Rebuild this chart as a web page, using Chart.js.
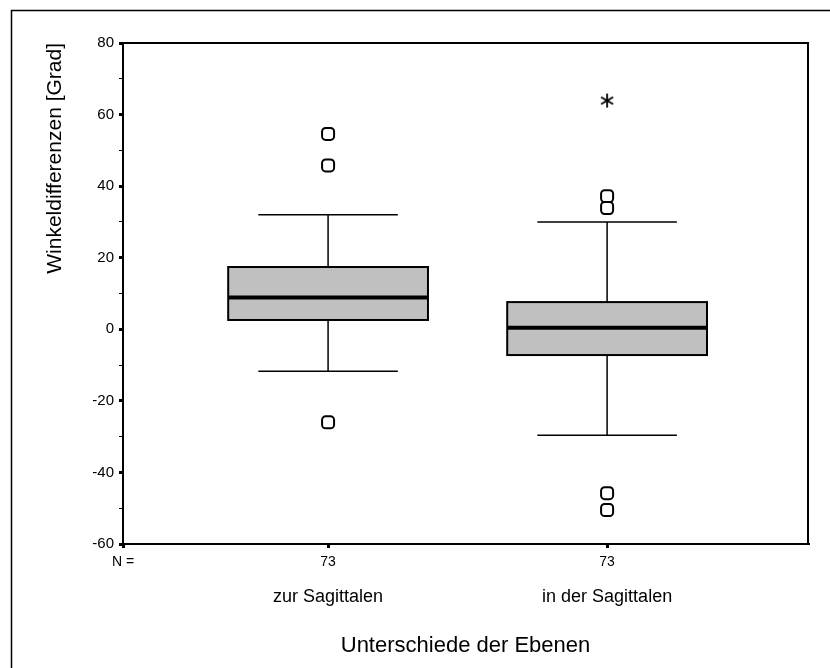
<!DOCTYPE html>
<html>
<head>
<meta charset="utf-8">
<script src="https://cdn.jsdelivr.net/npm/chart.js@4"></script>
<style>
  body { margin: 0; background: #fff; }
  canvas { display: block; }
</style>
</head>
<body>
<canvas id="chart" width="830" height="668"></canvas>
<script>
// data
const categories = ['zur Sagittalen', 'in der Sagittalen'];
const nCounts = [73, 73];
const whiskerLow = [-11.7, -29.6];
const q1 = [2.6, -7.2];
const median = [8.9, 0.4];
const q3 = [17.4, 7.6];
const whiskerHigh = [32.0, 30.0];
const outliers = [[54.6, 45.8, -26.0], [37.2, 33.9, -45.8, -50.5]];
const extremes = [[], [63.9]];
const yTicks = [80, 60, 40, 20, 0, -20, -40, -60];

const xMin = 0.265, xMax = 2.72;
const FONT = 'Arial, "Liberation Sans", sans-serif';

// points for the outliers and extremes
const outlierPoints = [];
const extremePoints = [];
categories.forEach((c, i) => {
    outliers[i].forEach(v => outlierPoints.push({ x: i + 1, y: v }));
    extremes[i].forEach(v => extremePoints.push({ x: i + 1, y: v }));
});

// six-armed asterisk used for extreme values
function makeAsterisk() {
    const c = document.createElement('canvas');
    c.width = 16; c.height = 16;
    const g = c.getContext('2d');
    g.strokeStyle = '#000';
    g.lineWidth = 1.8;
    for (let k = 0; k < 3; k++) {
        const a = Math.PI / 2 + k * Math.PI / 3;
        g.beginPath();
        g.moveTo(8 + Math.cos(a) * 7, 8 + Math.sin(a) * 7);
        g.lineTo(8 - Math.cos(a) * 7, 8 - Math.sin(a) * 7);
        g.stroke();
    }
    return c;
}

// frame, boxes and whiskers drawn through the chart's scales
const boxPlugin = {
    id: 'boxPlugin',
    beforeDraw(chart) {
        const ctx = chart.ctx;
        ctx.save();
        ctx.fillStyle = '#fff';
        ctx.fillRect(0, 0, chart.width, chart.height);
        ctx.strokeStyle = '#000';
        ctx.lineWidth = 1.5;
        ctx.beginPath();
        ctx.moveTo(11.5, chart.height);
        ctx.lineTo(11.5, 10.5);
        ctx.lineTo(chart.width, 10.5);
        ctx.stroke();
        ctx.restore();
    },
    beforeDatasetsDraw(chart) {
        const ctx = chart.ctx;
        const xs = chart.scales.x;
        const ys = chart.scales.y;
        const area = chart.chartArea;
        ctx.save();
        ctx.strokeStyle = '#000';
        ctx.lineWidth = 2;
        ctx.strokeRect(area.left, area.top, area.right - area.left, area.bottom - area.top);

        categories.forEach((c, i) => {
            const cx = xs.getPixelForValue(i + 1);
            const half = xs.getPixelForValue(i + 1 + 0.358) - cx;
            const cap = xs.getPixelForValue(i + 1 + 0.25) - cx;
            const yLo = ys.getPixelForValue(whiskerLow[i]);
            const yQ1 = ys.getPixelForValue(q1[i]);
            const yMed = ys.getPixelForValue(median[i]);
            const yQ3 = ys.getPixelForValue(q3[i]);
            const yHi = ys.getPixelForValue(whiskerHigh[i]);

            // whiskers
            ctx.lineWidth = 1.5;
            ctx.beginPath();
            ctx.moveTo(cx, yQ3); ctx.lineTo(cx, yHi);
            ctx.moveTo(cx - cap, yHi); ctx.lineTo(cx + cap, yHi);
            ctx.moveTo(cx, yQ1); ctx.lineTo(cx, yLo);
            ctx.moveTo(cx - cap, yLo); ctx.lineTo(cx + cap, yLo);
            ctx.stroke();

            // box
            ctx.fillStyle = '#c0c0c0';
            ctx.fillRect(cx - half, yQ3, half * 2, yQ1 - yQ3);
            ctx.lineWidth = 2;
            ctx.strokeRect(cx - half, yQ3, half * 2, yQ1 - yQ3);

            // median
            ctx.lineWidth = 4;
            ctx.beginPath();
            ctx.moveTo(cx - half, yMed); ctx.lineTo(cx + half, yMed);
            ctx.stroke();
        });
        ctx.restore();
    }
};

const ctx = document.getElementById('chart').getContext('2d');
new Chart(ctx, {
    type: 'scatter',
    data: {
        datasets: [{
            label: 'Ausreißer',
            data: outlierPoints,
            pointStyle: 'rectRounded',
            pointRadius: 7,
            pointBorderWidth: 2,
            borderColor: '#000',
            backgroundColor: '#fff'
        }, {
            label: 'Extremwerte',
            data: extremePoints,
            pointStyle: makeAsterisk(),
            pointRadius: 8
        }]
    },
    options: {
        responsive: false,
        devicePixelRatio: 1,
        animation: false,
        events: [],
        layout: { padding: { top: 43, right: 22, left: 0, bottom: 0 } },
        plugins: { legend: { display: false }, tooltip: { enabled: false } },
        scales: {
            y: {
                type: 'linear',
                min: -60,
                max: 80,
                afterBuildTicks(scale) {
                    const t = [];
                    for (let v = -60; v <= 80; v += 10) t.push({ value: v });
                    scale.ticks = t;
                },
                afterFit(scale) { scale.width = 123; },
                ticks: {
                    color: '#000',
                    padding: 5,
                    font: { family: FONT, size: 15 },
                    callback: v => yTicks.includes(v) ? String(v) : ''
                },
                grid: {
                    drawOnChartArea: false,
                    color: '#000',
                    tickLength: 4,
                    lineWidth: c => (c.tick && c.tick.value % 20 === 0) ? 3 : 1
                },
                border: { color: '#000', width: 2 },
                title: {
                    display: true,
                    text: 'Winkeldifferenzen [Grad]',
                    align: 'end',
                    color: '#000',
                    font: { family: FONT, size: 21 },
                    padding: { top: 43, bottom: 0 }
                }
            },
            x: {
                type: 'linear',
                position: 'bottom',
                min: xMin,
                max: xMax,
                afterBuildTicks(scale) {
                    scale.ticks = [{ value: xMin }].concat(categories.map((c, i) => ({ value: i + 1 })));
                },
                afterFit(scale) { scale.height = 28; },
                ticks: {
                    color: '#000',
                    padding: 6,
                    maxRotation: 0,
                    autoSkip: false,
                    font: { family: FONT, size: 14 },
                    callback: (v, idx) => idx === 0 ? 'N =' : String(nCounts[idx - 1])
                },
                grid: {
                    drawOnChartArea: false,
                    color: '#000',
                    tickLength: 4,
                    lineWidth: 3
                },
                border: { color: '#000', width: 2 }
            },
            xCat: {
                type: 'linear',
                position: 'bottom',
                min: xMin,
                max: xMax,
                afterBuildTicks(scale) {
                    scale.ticks = categories.map((c, i) => ({ value: i + 1 }));
                },
                afterFit(scale) { scale.height = 96; },
                ticks: {
                    color: '#000',
                    padding: 6,
                    maxRotation: 0,
                    autoSkip: false,
                    font: { family: FONT, size: 18 },
                    callback: (v, idx) => categories[idx]
                },
                grid: { display: false },
                border: { display: false },
                title: {
                    display: true,
                    text: 'Unterschiede der Ebenen',
                    color: '#000',
                    font: { family: FONT, size: 22 },
                    padding: { top: 0, bottom: 9 }
                }
            }
        }
    },
    plugins: [boxPlugin]
});
</script>
</body>
</html>
